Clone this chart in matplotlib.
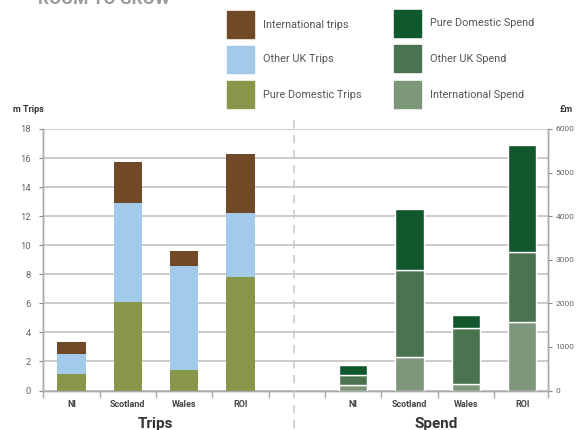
import matplotlib
matplotlib.use("Agg")
import matplotlib.pyplot as plt
from matplotlib.patches import Rectangle
from matplotlib.lines import Line2D

plt.rcParams['font.family'] = ['Roboto', 'DejaVu Sans']

regions = ["NI", "Scotland", "Wales", "ROI"]

# Trips (millions)
trips_domestic = [1.15, 6.10, 1.42, 7.83]
trips_other_uk = [1.38, 6.82, 7.17, 4.41]
trips_international = [0.82, 2.83, 1.03, 4.06]

# Spend (£m)
spend_international = [130, 758, 138, 1561]
spend_other_uk = [237, 2012, 1285, 1623]
spend_domestic = [207, 1401, 314, 2456]

trip_ticks = [0, 2, 4, 6, 8, 10, 12, 14, 16, 18]
spend_ticks = [0, 1000, 2000, 3000, 4000, 5000, 6000]

c_trip_dom, c_trip_uk, c_trip_int = "#88964A", "#A3C9EB", "#704A27"
c_sp_dom, c_sp_uk, c_sp_int = "#11572E", "#4A7450", "#7E9679"
grid_c = "#CCCCCC"
tick_c = "#888888"
dark = "#444444"

W, H = 577, 430
fig = plt.figure(figsize=(W / 100, H / 100), dpi=100)
ax = fig.add_axes([43.3 / W, 1 - 390.5 / H, (548 - 43.3) / W, (390.5 - 129) / H])
ax2 = ax.twinx()

xt = [0.5, 1.5, 2.5, 3.5]
xs = [5.5, 6.5, 7.5, 8.5]
bw = 0.5

# Trips stacks
b1 = trips_domestic
b2 = [a + b for a, b in zip(trips_domestic, trips_other_uk)]
ax.bar(xt, trips_domestic, bw, color=c_trip_dom, zorder=3)
ax.bar(xt, trips_other_uk, bw, bottom=b1, color=c_trip_uk, zorder=3)
ax.bar(xt, trips_international, bw, bottom=b2, color=c_trip_int, zorder=3)

# Spend stacks
s1 = spend_international
s2 = [a + b for a, b in zip(spend_international, spend_other_uk)]
kw = dict(edgecolor="white", linewidth=1.0, zorder=3)
ax2.bar(xs, spend_international, bw, color=c_sp_int, **kw)
ax2.bar(xs, spend_other_uk, bw, bottom=s1, color=c_sp_uk, **kw)
ax2.bar(xs, spend_domestic, bw, bottom=s2, color=c_sp_dom, **kw)

ax.set_xlim(0, 8.96)
ax.set_ylim(0, 18)
ax2.set_ylim(0, 6000)

ax.set_yticks(trip_ticks)
ax.set_yticklabels([str(t) for t in trip_ticks])
ax2.set_yticks(spend_ticks)
ax2.set_yticklabels([str(t) for t in spend_ticks])
ax.yaxis.grid(True, color=grid_c, linewidth=1.4, zorder=0)
ax.set_axisbelow(True)

for a in (ax, ax2):
    a.tick_params(axis='y', colors=tick_c, labelsize=6.8, length=3, width=0.8, pad=4)
    a.spines["top"].set_visible(False)
    for s in ("left", "right", "bottom"):
        a.spines[s].set_color("#AAAAAA")
        a.spines[s].set_linewidth(1.0)
ax.tick_params(axis='y', labelcolor="#666666", pad=6)
ax2.tick_params(axis='y', labelcolor="#666666", labelsize=6.0, pad=2.5)

# Category separators and labels
ax.set_xticks([0, 1, 2, 3, 4, 5, 6, 7, 8, 8.96])
ax.set_xticklabels([])
ax.tick_params(axis='x', length=5, color="#AAAAAA", width=1.0)
for x, r in zip(xt + xs, regions + regions):
    ax.text(x, -0.65, r, ha="center", va="top", fontsize=6.5, fontweight="bold", color=dark)

ax.text(2.0, -1.85, "Trips", ha="center", va="top", fontsize=11, fontweight="bold", color="#333333")
ax.text(6.97, -1.85, "Spend", ha="center", va="top", fontsize=11, fontweight="bold", color="#333333")

# Dashed divider
fig.add_artist(Line2D([294.3 / W, 294.3 / W], [1 - 120 / H, 0], color="#CCCCCC",
                      linewidth=1.2, linestyle=(0, (5, 4))))

# Axis unit labels
fig.text(13 / W, 1 - 110 / H, "m Trips", fontsize=6.5, fontweight="bold", color="#333333", va="center")
fig.text(559 / W, 1 - 110 / H, "£m", fontsize=6.5, fontweight="bold", color="#333333", va="center")

# Title
fig.text(38 / W, 1 - 4 / H, "ROOM TO GROW", fontsize=12.5, fontweight="bold", color="#999999", va="baseline")

# Legend
legend_items = [
    (227, 11, c_trip_int, "International trips"),
    (227, 46, c_trip_uk, "Other UK Trips"),
    (227, 81, c_trip_dom, "Pure Domestic Trips"),
    (394, 10, c_sp_dom, "Pure Domestic Spend"),
    (394, 45, c_sp_uk, "Other UK Spend"),
    (394, 81, c_sp_int, "International Spend"),
]
for px, py, col, lab in legend_items:
    fig.add_artist(Rectangle((px / W, 1 - (py + 27) / H), 27 / W, 27 / H,
                             transform=fig.transFigure, color=col))
    fig.text((px + 36) / W, 1 - (py + 13.5) / H, lab, fontsize=7.8, color="#555555", va="center")

fig.savefig("out.png", dpi=100)
